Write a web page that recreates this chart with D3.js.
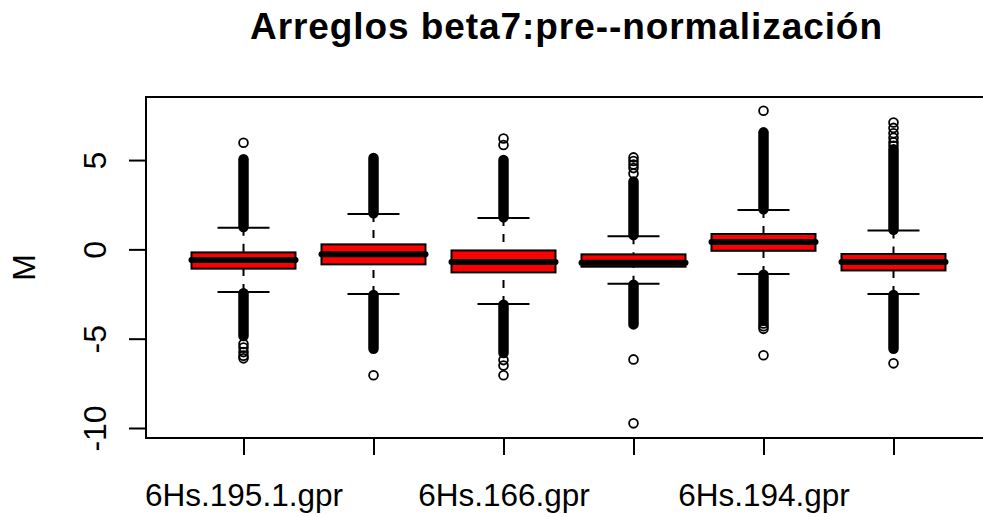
<!DOCTYPE html>
<html>
<head>
<meta charset="utf-8">
<script src="https://cdn.jsdelivr.net/npm/d3@7"></script>
<style>
  body { margin: 0; background: #fff; }
  svg { display: block; }
  text { font-family: "Liberation Sans", Arial, sans-serif; fill: #000; }
</style>
</head>
<body>
<svg id="chart" width="983" height="517"></svg>
<script>
// Box statistics for the six arrays (M values before normalisation)
const tickLabels   = ["6Hs.195.1.gpr", "", "6Hs.166.gpr", "", "6Hs.194.gpr", ""];
const lowerWhisker = [-2.39, -2.50, -3.06, -1.92, -1.38, -2.50];
const lowerHinge   = [-1.08, -0.84, -1.29, -0.97, -0.08, -1.18];
const medians      = [-0.60, -0.28, -0.71, -0.75,  0.41, -0.71];
const upperHinge   = [-0.17,  0.28, -0.06, -0.28,  0.86, -0.26];
const upperWhisker = [ 1.21,  1.98,  1.75,  0.74,  2.20,  1.06];

// Stretches where outliers overlap into a solid column: [from, to]
const upperOutlierRuns = [[1.25, 5.05], [2.02, 5.12], [1.80, 5.00], [0.80, 3.80], [2.25, 6.55], [1.10, 5.60]];
const lowerOutlierRuns = [[-4.85, -2.45], [-5.57, -2.55], [-5.80, -3.10], [-4.20, -1.98], [-4.00, -1.42], [-5.57, -2.55]];

// Separately visible outliers
const outliers = [
  [5.97, -5.30, -5.50, -5.75, -5.95, -6.10],
  [-7.05],
  [5.84, 6.21, -6.20, -6.50, -7.05],
  [4.25, 4.55, 4.75, 4.95, 5.15, -6.16, -9.74],
  [7.76, -4.15, -4.30, -4.45, -5.93],
  [5.80, 6.00, 6.25, 6.50, 6.80, 7.10, -6.38]
];

const yTicks = [-10, -5, 0, 5];
const title = "Arreglos beta7:pre--normalización";
const yTitle = "M";

const svg = d3.select("#chart");
const plotLeft = 146, plotRight = 991, plotTop = 97, plotBottom = 438;

const x = d3.scaleLinear().domain([0.25, 6.75]).range([plotLeft, plotRight]);
const y = d3.scaleLinear().domain([-10.56, 8.53]).range([plotBottom, plotTop]);
const step = x(2) - x(1);
const boxW = 0.8 * step;
const stapleW = 0.5 * boxW;

const idx = d3.range(tickLabels.length);
const g = svg.append("g");

// Whiskers (dashed from whisker end to hinge)
g.append("g").selectAll("line").data(idx).join("line")
  .attr("x1", i => x(i + 1)).attr("x2", i => x(i + 1))
  .attr("y1", i => y(lowerWhisker[i])).attr("y2", i => y(lowerHinge[i]))
  .attr("stroke", "#000").attr("stroke-width", 2).attr("stroke-dasharray", "8,8");
g.append("g").selectAll("line").data(idx).join("line")
  .attr("x1", i => x(i + 1)).attr("x2", i => x(i + 1))
  .attr("y1", i => y(upperWhisker[i])).attr("y2", i => y(upperHinge[i]))
  .attr("stroke", "#000").attr("stroke-width", 2).attr("stroke-dasharray", "8,8");

// Staples
[lowerWhisker, upperWhisker].forEach(arr => {
  g.append("g").selectAll("line").data(idx).join("line")
    .attr("x1", i => x(i + 1) - stapleW / 2).attr("x2", i => x(i + 1) + stapleW / 2)
    .attr("y1", i => y(arr[i])).attr("y2", i => y(arr[i]))
    .attr("stroke", "#000").attr("stroke-width", 2);
});

// Boxes
g.append("g").selectAll("rect").data(idx).join("rect")
  .attr("x", i => x(i + 1) - boxW / 2).attr("width", boxW)
  .attr("y", i => y(upperHinge[i]))
  .attr("height", i => y(lowerHinge[i]) - y(upperHinge[i]))
  .attr("fill", "#ff0000").attr("stroke", "#000").attr("stroke-width", 2);

// Medians
g.append("g").selectAll("line").data(idx).join("line")
  .attr("x1", i => x(i + 1) - boxW / 2).attr("x2", i => x(i + 1) + boxW / 2)
  .attr("y1", i => y(medians[i])).attr("y2", i => y(medians[i]))
  .attr("stroke", "#000").attr("stroke-width", 6).attr("stroke-linecap", "round");

// Dense outlier columns
[upperOutlierRuns, lowerOutlierRuns].forEach(runs => {
  g.append("g").selectAll("line").data(idx).join("line")
    .attr("x1", i => x(i + 1)).attr("x2", i => x(i + 1))
    .attr("y1", i => y(runs[i][0])).attr("y2", i => y(runs[i][1]))
    .attr("stroke", "#000").attr("stroke-width", 10.5).attr("stroke-linecap", "round");
});

// Individual outliers
const pts = idx.flatMap(i => outliers[i].map(v => ({ i, v })));
g.append("g").selectAll("circle").data(pts).join("circle")
  .attr("cx", d => x(d.i + 1)).attr("cy", d => y(d.v)).attr("r", 4.4)
  .attr("fill", "none").attr("stroke", "#000").attr("stroke-width", 1.8);

// Frame
svg.append("rect")
  .attr("x", plotLeft).attr("y", plotTop)
  .attr("width", plotRight - plotLeft).attr("height", plotBottom - plotTop)
  .attr("fill", "none").attr("stroke", "#000").attr("stroke-width", 2);

// Y axis (plain hyphen for negative numbers)
const yAxis = svg.append("g").attr("transform", `translate(${plotLeft},0)`)
  .call(d3.axisLeft(y).tickValues(yTicks).tickSize(17).tickFormat(d => String(d)));
yAxis.select(".domain").remove();
yAxis.selectAll(".tick line").attr("stroke", "#000").attr("stroke-width", 2);
yAxis.selectAll(".tick text")
  .attr("x", null).attr("dy", null)
  .attr("text-anchor", "middle")
  .attr("transform", "translate(-40,0) rotate(-90)")
  .style("font-family", "'Liberation Sans', Arial, sans-serif")
  .style("font-size", "32px").attr("fill", "#000");

// X axis
const xAxis = svg.append("g").attr("transform", `translate(0,${plotBottom})`)
  .call(d3.axisBottom(x).tickValues(idx.map(i => i + 1)).tickSize(17)
    .tickFormat((d, k) => tickLabels[k]));
xAxis.select(".domain").remove();
xAxis.selectAll(".tick line").attr("stroke", "#000").attr("stroke-width", 2);
xAxis.selectAll(".tick text")
  .attr("y", 68).attr("dy", null)
  .style("font-family", "'Liberation Sans', Arial, sans-serif")
  .style("font-size", "31.5px").attr("fill", "#000");

// Y title
svg.append("text")
  .attr("transform", `translate(35,${(plotTop + plotBottom) / 2}) rotate(-90)`)
  .attr("text-anchor", "middle")
  .style("font-size", "32px")
  .text(yTitle);

// Title
svg.append("text")
  .attr("x", 566).attr("y", 39)
  .attr("text-anchor", "middle")
  .style("font-size", "37px").style("font-weight", "bold")
  .attr("textLength", 632).attr("lengthAdjust", "spacing")
  .text(title);
</script>
</body>
</html>
